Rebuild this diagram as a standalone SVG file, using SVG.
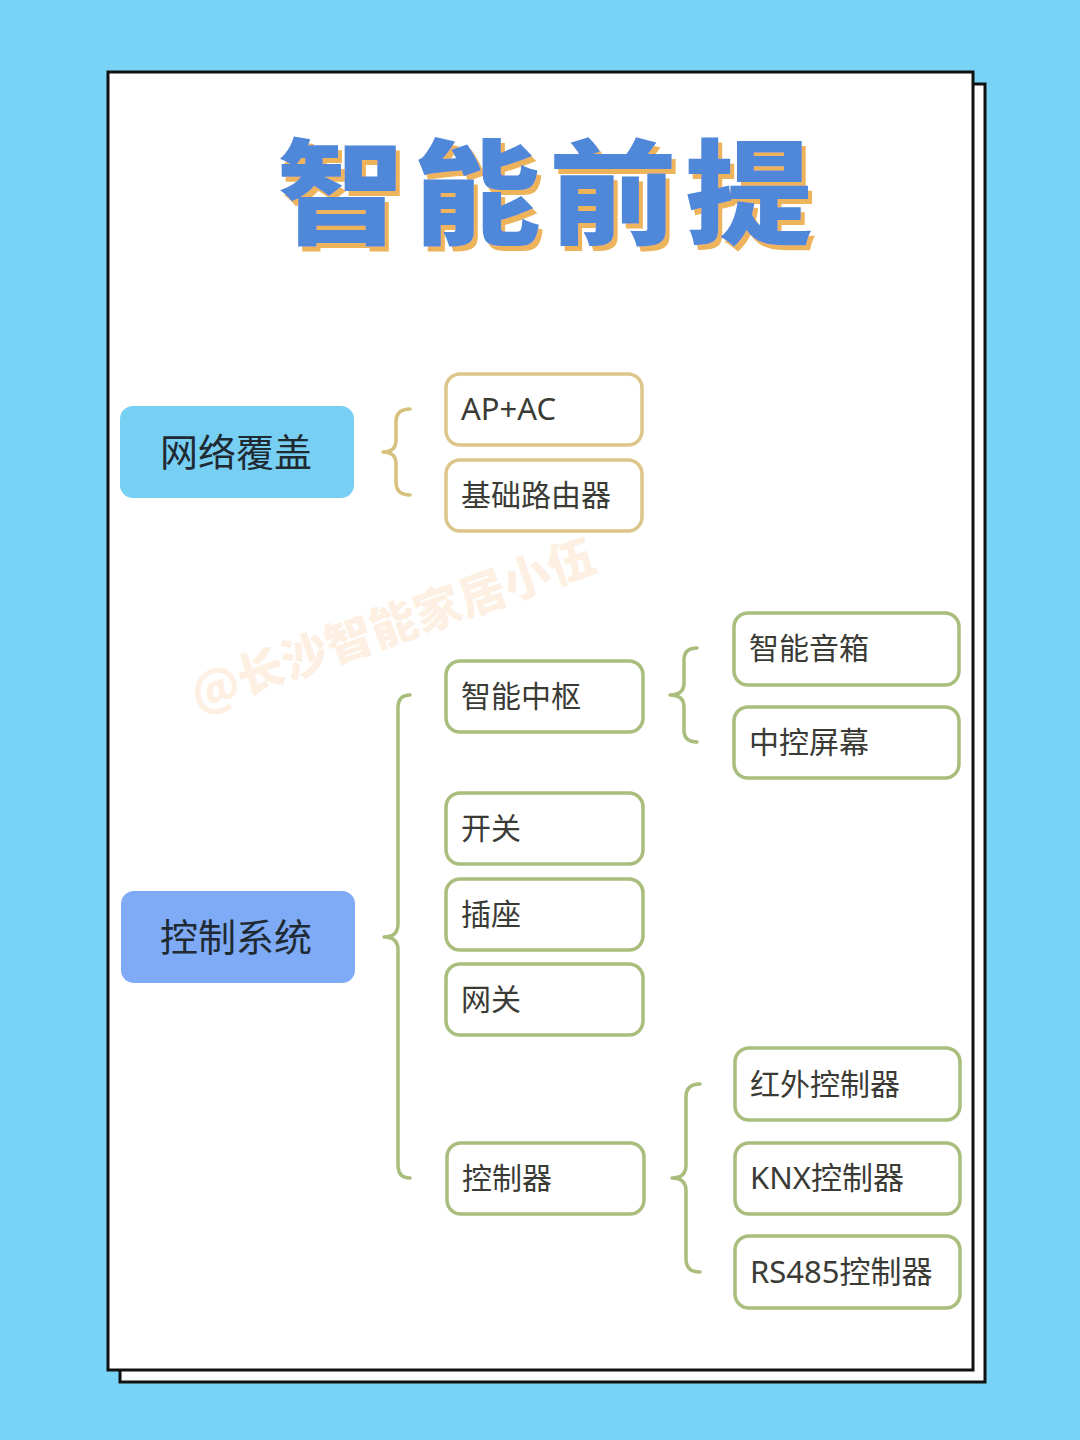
<svg xmlns="http://www.w3.org/2000/svg" width="1080" height="1440" viewBox="0 0 1080 1440">
<defs>
<filter id="tshadow" x="-5%" y="-5%" width="115%" height="120%">
<feFlood flood-color="#EDB45C" result="c"/>
<feComposite in="c" in2="SourceAlpha" operator="in" result="s"/>
<feOffset in="s" dx="4" dy="5" result="o"/>
<feMerge><feMergeNode in="o"/><feMergeNode in="SourceGraphic"/></feMerge>
</filter>
<style>
.card{fill:#ffffff;stroke:#111111;stroke-width:3}
.title{font-family:"Noto Sans CJK SC","Noto Sans",sans-serif;font-weight:900;font-size:124px;letter-spacing:8px}
.main{font-family:"Noto Sans CJK SC","Noto Sans",sans-serif;font-size:38px;fill:#1f2a33}
.lbl{font-family:"Noto Sans","Noto Sans CJK SC",sans-serif;font-size:30px;fill:#3b3b36}
.lbm{font-family:"Noto Sans","Noto Sans CJK SC",sans-serif;font-size:31px;fill:#3b3b36}
.gold{fill:#ffffff;stroke:#DCC68C;stroke-width:3.5}
.green{fill:#ffffff;stroke:#A9BD7C;stroke-width:3.5}
.bgold{fill:none;stroke:#D8C17F;stroke-width:3.5;stroke-linecap:round;stroke-linejoin:round}
.bgreen{fill:none;stroke:#A9BD7C;stroke-width:3.5;stroke-linecap:round;stroke-linejoin:round}
</style>
</defs>
<rect x="0" y="0" width="1080" height="1440" fill="#79D3F6"/>
<rect class="card" x="120" y="84" width="865" height="1298"/>
<rect class="card" x="108" y="72" width="865" height="1298"/>

<text x="198" y="712" transform="rotate(-19.5 198 712)" font-family="Noto Sans CJK SC,sans-serif" font-weight="900" font-size="47" fill="#F9C795" fill-opacity="0.28">@长沙智能家居小伍</text>

<g id="title">
<text class="title" x="549" y="235" text-anchor="middle" fill="#4F87D9" filter="url(#tshadow)" transform="translate(549 235) scale(1.03 0.92) translate(-549 -235)">智能前提</text>
</g>

<g id="connectors">
<path class="bgold" d="M410 409 Q396 409 396 422 L396 440 Q396 452 383 452 Q396 452 396 464 L396 482 Q396 495 410 495"/>
<path class="bgreen" d="M410 695 Q398 695 398 708 L398 924 Q398 937 384 937 Q398 937 398 950 L398 1165 Q398 1178 410 1178"/>
<path class="bgreen" d="M697 648 Q684 648 684 660 L684 683 Q684 695 670 695 Q684 695 684 707 L684 730 Q684 742 697 742"/>
<path class="bgreen" d="M700 1084 Q686 1084 686 1097 L686 1165 Q686 1178 672 1178 Q686 1178 686 1191 L686 1259 Q686 1272 700 1272"/>
</g>

<g id="n-network"><rect x="120" y="406" width="234" height="92" rx="13" fill="#77CFF4"/><text class="main" x="236" y="466" text-anchor="middle">网络覆盖</text></g>
<g id="n-control"><rect x="121" y="891" width="234" height="92" rx="13" fill="#7EAAF6"/><text class="main" x="236" y="951" text-anchor="middle">控制系统</text></g>

<g id="n-apac"><rect class="gold" x="446" y="374" width="196" height="71" rx="14"/><text class="lbm" x="461" y="420">AP+AC</text></g>
<g id="n-router"><rect class="gold" x="446" y="460" width="196" height="71" rx="14"/><text class="lbl" x="461" y="506">基础路由器</text></g>

<g id="n-hub"><rect class="green" x="446" y="661" width="197" height="71" rx="14"/><text class="lbl" x="461" y="707">智能中枢</text></g>
<g id="n-switch"><rect class="green" x="446" y="793" width="197" height="71" rx="14"/><text class="lbl" x="461" y="839">开关</text></g>
<g id="n-socket"><rect class="green" x="446" y="879" width="197" height="71" rx="14"/><text class="lbl" x="461" y="925">插座</text></g>
<g id="n-gateway"><rect class="green" x="446" y="964" width="197" height="71" rx="14"/><text class="lbl" x="461" y="1010">网关</text></g>
<g id="n-controller"><rect class="green" x="447" y="1143" width="197" height="71" rx="14"/><text class="lbl" x="462" y="1189">控制器</text></g>

<g id="n-speaker"><rect class="green" x="734" y="613" width="225" height="72" rx="14"/><text class="lbl" x="749" y="659">智能音箱</text></g>
<g id="n-screen"><rect class="green" x="734" y="707" width="225" height="71" rx="14"/><text class="lbl" x="749" y="753">中控屏幕</text></g>
<g id="n-ir"><rect class="green" x="735" y="1048" width="225" height="72" rx="14"/><text class="lbl" x="750" y="1095">红外控制器</text></g>
<g id="n-knx"><rect class="green" x="735" y="1143" width="225" height="71" rx="14"/><text class="lbm" x="750" y="1189">KNX控制器</text></g>
<g id="n-rs485"><rect class="green" x="735" y="1236" width="225" height="72" rx="14"/><text class="lbm" x="750" y="1283">RS485控制器</text></g>
</svg>
